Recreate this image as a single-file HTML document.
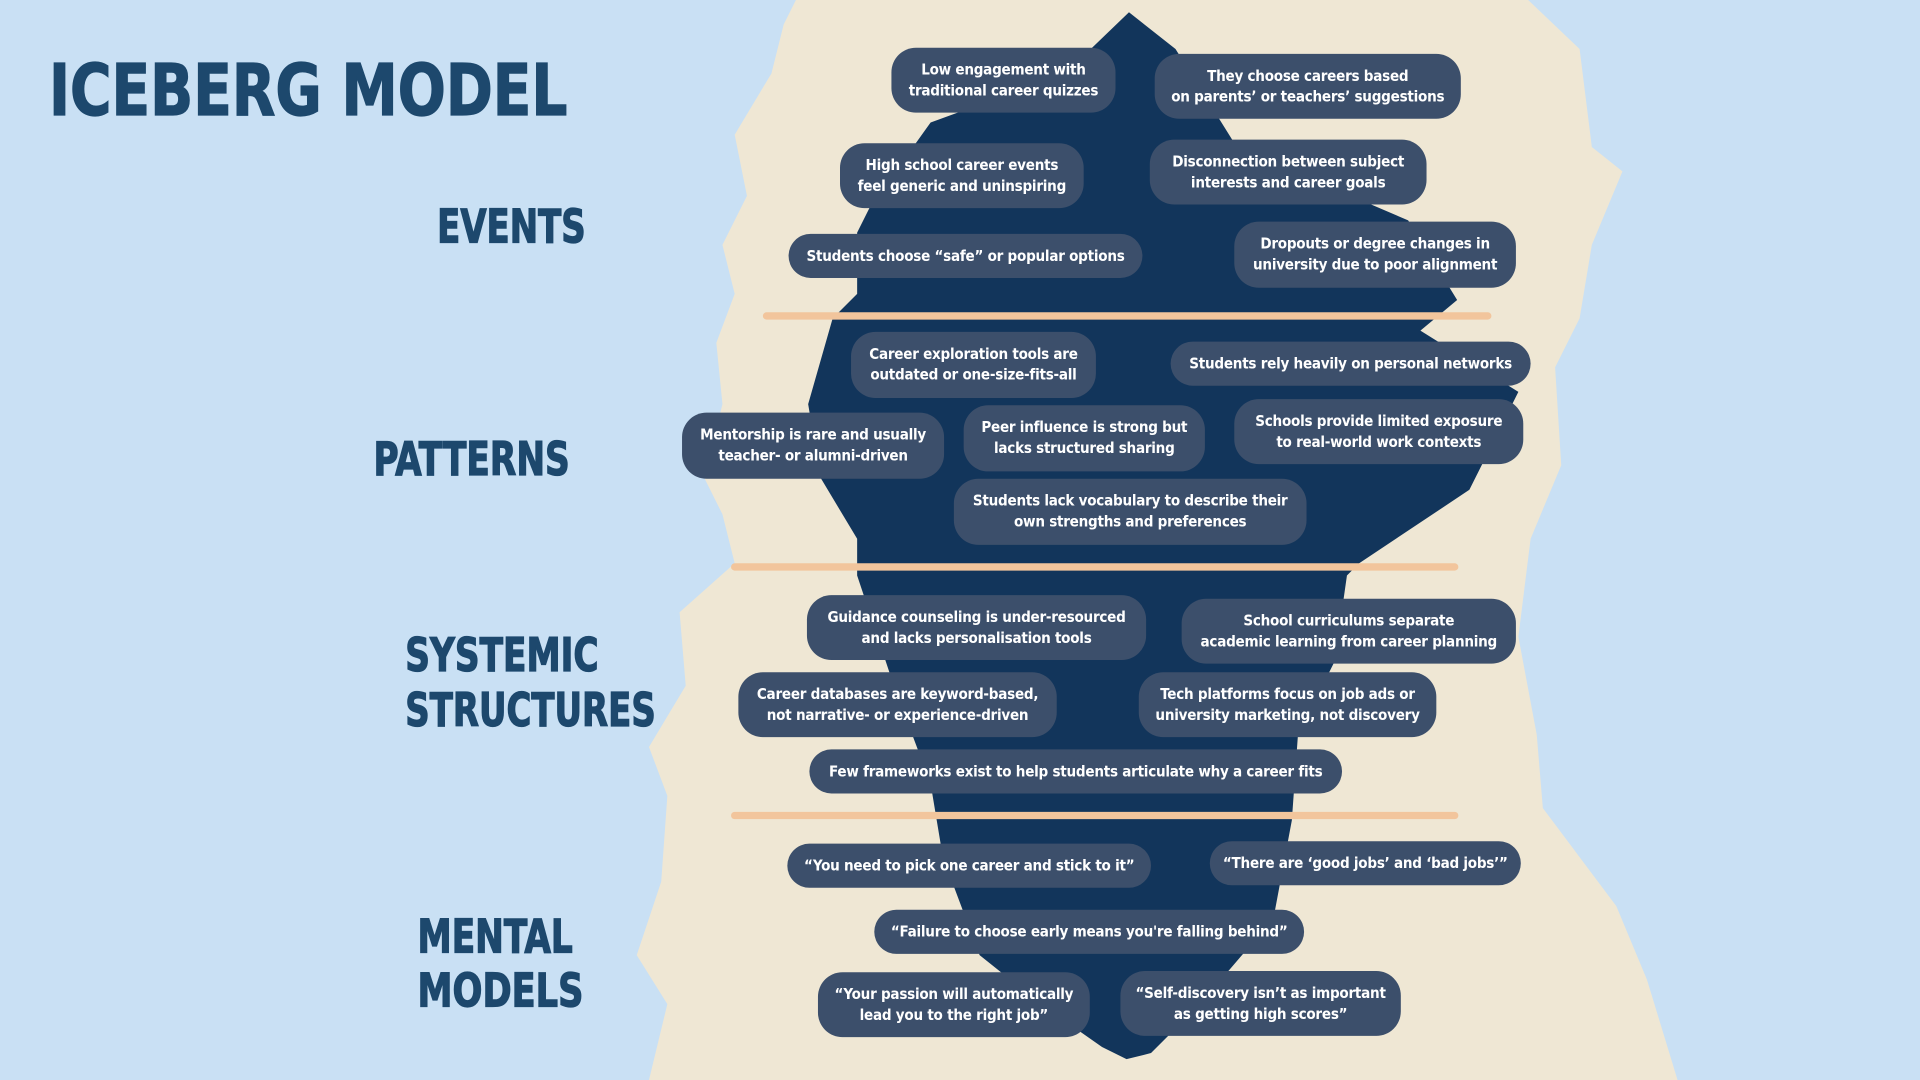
<!DOCTYPE html>
<html><head><meta charset="utf-8"><style>
html,body{margin:0;padding:0;width:1920px;height:1080px;overflow:hidden;background:#c9e0f4}
#w{position:absolute;left:0;top:0;width:1568px;height:882px;transform:scale(1.22449);transform-origin:0 0}
.p{position:absolute;background:#3c4f6b;color:#fff;border-radius:20px;display:flex;align-items:center;justify-content:center;text-align:center;font-family:"DejaVu Sans Condensed","Liberation Sans",sans-serif;font-weight:bold;font-size:12.3px;line-height:17px;white-space:nowrap;letter-spacing:-0.2px}
.l{position:absolute;font-family:"DejaVu Sans Condensed","Liberation Sans",sans-serif;font-weight:900;color:#1d486d;white-space:nowrap;transform-origin:0 0;-webkit-text-stroke:1px #1d486d}
.o{position:absolute;height:6px;background:#f2c59c;border-radius:3px}
</style></head><body><div id="w">
<svg width="1568" height="882" style="position:absolute;left:0;top:0">
<polygon fill="#efe7d4" points="650,0 1248,0 1290,40 1300,120 1325,140 1300,200 1290,260 1270,300 1275,380 1250,440 1240,520 1255,600 1260,660 1290,700 1320,740 1345,800 1370,882 530,882 545,820 520,780 540,720 545,650 530,610 560,560 555,500 600,460 590,420 575,390 590,330 585,280 600,240 590,200 610,160 600,110 630,60 640,20"/>
<polygon fill="#12355b" points="922,10 960,40 1010,120 1150,180 1190,245 1160,270 1240,320 1200,400 1110,460 1100,470 1090,540 1060,600 1055,670 1040,750 980,820 940,860 920,865 900,855 850,820 800,780 770,700 760,640 730,560 700,470 700,440 670,390 660,330 680,260 700,240 700,190 710,170 760,100 870,60"/>
</svg>
<div class="o" style="left:623px;top:255px;width:595px"></div>
<div class="o" style="left:597px;top:460px;width:594px"></div>
<div class="o" style="left:597px;top:663px;width:594px"></div>

<div class="l" style="left:40px;top:40px;font-size:58px;transform:scaleX(0.885)">ICEBERG MODEL</div>
<div class="l" style="left:357px;top:163px;font-size:38px;transform:scaleX(0.81)">EVENTS</div>
<div class="l" style="left:305px;top:353px;font-size:38px;transform:scaleX(0.82)">PATTERNS</div>
<div class="l" style="left:331px;top:513px;font-size:38px;transform:scaleX(0.82)">SYSTEMIC</div>
<div class="l" style="left:331px;top:558px;font-size:38px;transform:scaleX(0.81)">STRUCTURES</div>
<div class="l" style="left:341px;top:743px;font-size:38px;transform:scaleX(0.82)">MENTAL</div>
<div class="l" style="left:341px;top:787px;font-size:38px;transform:scaleX(0.84)">MODELS</div>

<div class="p" style="left:728px;top:39px;width:183px;height:53px">Low engagement with<br>traditional career quizzes</div>
<div class="p" style="left:943px;top:44px;width:250px;height:53px">They choose careers based<br>on parents’ or teachers’ suggestions</div>
<div class="p" style="left:686px;top:117px;width:199px;height:53px">High school career events<br>feel generic and uninspiring</div>
<div class="p" style="left:939px;top:114px;width:226px;height:53px">Disconnection between subject<br>interests and career goals</div>
<div class="p" style="left:644px;top:191px;width:289px;height:36px">Students choose “safe” or popular options</div>
<div class="p" style="left:1008px;top:181px;width:230px;height:54px">Dropouts or degree changes in<br>university due to poor alignment</div>
<div class="p" style="left:695px;top:271px;width:200px;height:54px">Career exploration tools are<br>outdated or one-size-fits-all</div>
<div class="p" style="left:956px;top:279px;width:294px;height:36px">Students rely heavily on personal networks</div>
<div class="p" style="left:557px;top:337px;width:214px;height:54px">Mentorship is rare and usually<br>teacher- or alumni-driven</div>
<div class="p" style="left:787px;top:331px;width:197px;height:54px">Peer influence is strong but<br>lacks structured sharing</div>
<div class="p" style="left:1008px;top:326px;width:236px;height:53px">Schools provide limited exposure<br>to real-world work contexts</div>
<div class="p" style="left:779px;top:391px;width:288px;height:54px">Students lack vocabulary to describe their<br>own strengths and preferences</div>
<div class="p" style="left:659px;top:486px;width:277px;height:53px">Guidance counseling is under-resourced<br>and lacks personalisation tools</div>
<div class="p" style="left:965px;top:489px;width:273px;height:53px">School curriculums separate<br>academic learning from career planning</div>
<div class="p" style="left:603px;top:549px;width:260px;height:53px">Career databases are keyword-based,<br>not narrative- or experience-driven</div>
<div class="p" style="left:930px;top:549px;width:243px;height:53px">Tech platforms focus on job ads or<br>university marketing, not discovery</div>
<div class="p" style="left:661px;top:612px;width:435px;height:36px">Few frameworks exist to help students articulate why a career fits</div>
<div class="p" style="left:643px;top:689px;width:297px;height:36px">“You need to pick one career and stick to it”</div>
<div class="p" style="left:988px;top:687px;width:254px;height:36px">“There are ‘good jobs’ and ‘bad jobs’”</div>
<div class="p" style="left:714px;top:743px;width:351px;height:36px">“Failure to choose early means you're falling behind”</div>
<div class="p" style="left:668px;top:794px;width:222px;height:53px">“Your passion will automatically<br>lead you to the right job”</div>
<div class="p" style="left:915px;top:793px;width:229px;height:53px">“Self-discovery isn’t as important<br>as getting high scores”</div>
</div></body></html>
